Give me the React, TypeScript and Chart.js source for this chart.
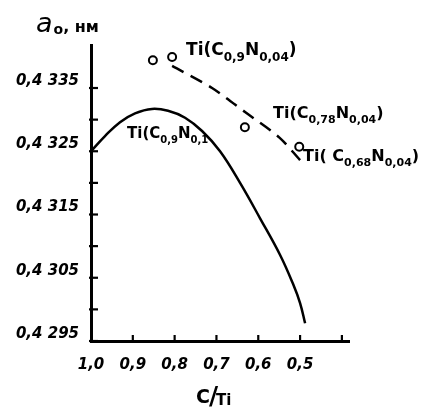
import React, { useEffect, useRef } from 'react';
import { Chart, registerables } from 'chart.js';
Chart.register(...registerables);

// Solid curve Ti(C0,9N0,1)
const curveX = [1.0, 0.9665, 0.9306, 0.8947, 0.8541, 0.8158, 0.7751, 0.7344, 0.6914, 0.6435, 0.5957, 0.5478, 0.5167, 0.5, 0.488];
const curveY = [0.4325, 0.43274, 0.43296, 0.4331, 0.43317, 0.43314, 0.43303, 0.43282, 0.4325, 0.432, 0.43144, 0.43086, 0.4304, 0.4301, 0.42978];
// Dashed line Ti(CxN0,04)
const dashX = [0.806, 0.7105, 0.6316, 0.55, 0.5];
const dashY = [0.43385, 0.4335, 0.43312, 0.43272, 0.43236];
// Measured points (open circles)
const pointX = [0.852, 0.806, 0.632, 0.502];
const pointY = [0.43394, 0.43399, 0.43288, 0.43257];

// Axis ticks
const yMajorTicks = [0.4295, 0.4305, 0.4315, 0.4325, 0.4335];
const yMajorLabels = ['0,4 295', '0,4 305', '0,4 315', '0,4 325', '0,4 335'];
const yMinorTicks = [0.43, 0.431, 0.432, 0.433];
const xTicks = [1.0, 0.9, 0.8, 0.7, 0.6, 0.5, 0.4];
const xTickLabels = ['1,0', '0,9', '0,8', '0,7', '0,6', '0,5', ''];

// Curve annotations: anchor (data units) and rich text parts [text, isSubscript]
const annotX = [0.7727, 0.5646, 0.4928, 0.9139];
const annotY = [0.43402, 0.43303, 0.43235, 0.43271];
const annotParts: [string, boolean][][] = [
  [['Ti(C', false], ['0,9', true], ['N', false], ['0,04', true], [')', false]],
  [['Ti(C', false], ['0,78', true], ['N', false], ['0,04', true], [')', false]],
  [['Ti( C', false], ['0,68', true], ['N', false], ['0,04', true], [')', false]],
  [['Ti(C', false], ['0,9', true], ['N', false], ['0,1', true]],
];
const annotSizes = [17, 16, 16, 15];

const FONT = '"DejaVu Sans"';

function drawRich(ctx: CanvasRenderingContext2D, x: number, y: number, parts: [string, boolean][], size: number) {
  let cx = x;
  for (const [t, sub] of parts) {
    const s = sub ? Math.round(size * 0.68) : size;
    ctx.font = `bold ${s}px ${FONT}`;
    ctx.fillText(t, cx, sub ? y + size * 0.32 : y);
    cx += ctx.measureText(t).width;
  }
}

const decorPlugin = {
  id: 'decor',
  afterDraw(chart: any) {
    const ctx: CanvasRenderingContext2D = chart.ctx;
    const xs = chart.scales.x;
    const ys = chart.scales.y;
    const area = chart.chartArea;
    ctx.save();
    ctx.strokeStyle = '#000';
    ctx.fillStyle = '#000';
    ctx.lineWidth = 2.2;
    // inward tick marks
    for (const v of [...yMajorTicks, ...yMinorTicks]) {
      const py = ys.getPixelForValue(v);
      ctx.beginPath();
      ctx.moveTo(area.left - 2, py);
      ctx.lineTo(area.left + 7, py);
      ctx.stroke();
    }
    for (const v of xTicks) {
      if (v === 1.0) continue;
      const px = xs.getPixelForValue(v);
      ctx.beginPath();
      ctx.moveTo(px, area.bottom + 1);
      ctx.lineTo(px, area.bottom - 6);
      ctx.stroke();
    }
    // annotations
    ctx.textAlign = 'left';
    ctx.textBaseline = 'alphabetic';
    for (let i = 0; i < annotParts.length; i++) {
      drawRich(ctx, xs.getPixelForValue(annotX[i]), ys.getPixelForValue(annotY[i]), annotParts[i], annotSizes[i]);
    }
    // y axis title: a0, нм
    let tx = 36;
    const ty = 32;
    ctx.font = `italic 27px ${FONT}`;
    ctx.fillText('a', tx, ty);
    tx += ctx.measureText('a').width + 1;
    ctx.font = `bold 14px ${FONT}`;
    ctx.fillText('o', tx, ty + 2);
    tx += ctx.measureText('o').width;
    ctx.font = `bold 16px ${FONT}`;
    ctx.fillText(', нм', tx, ty);
    // x axis title: C/Ti
    let bx = 196;
    const by = 403;
    ctx.font = `bold 19px ${FONT}`;
    ctx.fillText('C', bx, by);
    bx += ctx.measureText('C').width - 1;
    ctx.font = `bold 25px ${FONT}`;
    ctx.fillText('/', bx, by + 1);
    bx += ctx.measureText('/').width - 2;
    ctx.font = `bold 15px ${FONT}`;
    ctx.fillText('Ti', bx, by + 2);
    ctx.restore();
  },
};

export default function App() {
  const ref = useRef<HTMLCanvasElement>(null);
  useEffect(() => {
    if (!ref.current) return;
    const chart = new Chart(ref.current, {
      type: 'scatter',
      data: {
        datasets: [
          {
            type: 'line',
            data: curveX.map((x, i) => ({ x, y: curveY[i] })),
            borderColor: '#000',
            borderWidth: 2.5,
            pointRadius: 0,
            tension: 0.4,
            fill: false,
          },
          {
            type: 'line',
            data: dashX.map((x, i) => ({ x, y: dashY[i] })),
            borderColor: '#000',
            borderWidth: 2.5,
            borderDash: [13, 8],
            pointRadius: 0,
            tension: 0.3,
            fill: false,
          },
          {
            type: 'scatter',
            data: pointX.map((x, i) => ({ x, y: pointY[i] })),
            borderColor: '#000',
            backgroundColor: '#fff',
            borderWidth: 2,
            pointRadius: 4,
          },
        ],
      } as any,
      options: {
        responsive: false,
        animation: false,
        layout: { padding: { left: 0, top: 45, right: 75, bottom: 0 } },
        plugins: { legend: { display: false }, tooltip: { enabled: false } },
        scales: {
          x: {
            type: 'linear',
            reverse: true,
            min: 0.383,
            max: 1.0,
            grid: { display: false, drawTicks: false },
            border: { display: true, color: '#000', width: 3 },
            afterBuildTicks: (scale: any) => {
              scale.ticks = xTicks.map((v) => ({ value: v }));
            },
            afterFit: (scale: any) => {
              scale.height = 67;
            },
            ticks: {
              autoSkip: false,
              maxRotation: 0,
              padding: 15,
              color: '#000',
              font: { family: 'DejaVu Sans', size: 15, weight: 'bold', style: 'italic' },
              callback: (v: any) => {
                const i = xTicks.findIndex((t) => Math.abs(t - Number(v)) < 1e-6);
                return i >= 0 ? xTickLabels[i] : '';
              },
            },
          },
          y: {
            type: 'linear',
            min: 0.4295,
            max: 0.43418,
            grid: { display: false, drawTicks: false },
            border: { display: true, color: '#000', width: 3 },
            afterBuildTicks: (scale: any) => {
              scale.ticks = yMajorTicks.map((v) => ({ value: v }));
            },
            afterFit: (scale: any) => {
              scale.width = 91;
            },
            ticks: {
              autoSkip: false,
              padding: 12,
              labelOffset: -7,
              color: '#000',
              font: { family: 'DejaVu Sans', size: 15, weight: 'bold', style: 'italic' },
              callback: (v: any) => {
                const i = yMajorTicks.findIndex((t) => Math.abs(t - Number(v)) < 1e-7);
                return i >= 0 ? yMajorLabels[i] : '';
              },
            },
          },
        },
      } as any,
      plugins: [decorPlugin],
    });
    return () => chart.destroy();
  }, []);
  return (
    <div style={{ position: 'absolute', left: 0, top: 0, width: 424, height: 408, background: '#fff' }}>
      <canvas ref={ref} width={424} height={408} />
    </div>
  );
}
